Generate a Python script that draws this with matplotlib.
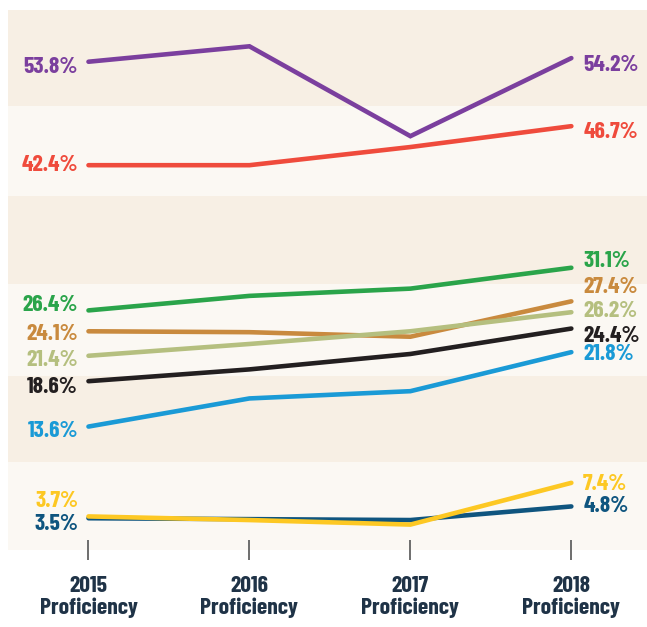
import matplotlib
matplotlib.use("Agg")
import matplotlib.pyplot as plt

years = ["2015\nProficiency", "2016\nProficiency", "2017\nProficiency", "2018\nProficiency"]

# one list per line
purple = [53.8, 55.5, 45.6, 54.2]
red = [42.4, 42.4, 44.4, 46.7]
green = [26.4, 28.0, 28.8, 31.1]
brown = [24.1, 24.0, 23.5, 27.4]
sage = [21.4, 22.7, 24.1, 26.2]
black = [18.6, 19.9, 21.6, 24.4]
blue = [13.6, 16.7, 17.5, 21.8]
navy = [3.5, 3.4, 3.3, 4.8]
yellow = [3.7, 3.3, 2.8, 7.4]

series = [purple, red, green, brown, sage, black, blue, navy, yellow]
colors = ["#7b3f9e", "#ef4b3c", "#2aa44a", "#c98a3e", "#b5bf7f",
          "#231f20", "#1a9ad6", "#0f557f", "#fdc823"]
# label nudges in pixels (positive = down), left end and right end
left_dy = [5, 0, -5, 3, 4, 6, 4, 6, -15]
right_dy = [7, 6, -7, -14, -1, 7, 2, 0, 1]

font = ["Barlow Condensed", "DejaVu Sans"]

fig = plt.figure(figsize=(6.47, 6.27), dpi=100)
ax = fig.add_axes([8 / 647, 77 / 627, 639 / 647, 540 / 627])

# alternating background bands
edges = [0, 9.7, 19.2, 29.3, 39.0, 48.9, 59.5]
for i in range(len(edges) - 1):
    c = "#fbf8f3" if i % 2 == 0 else "#f7efe4"
    ax.axhspan(edges[i], edges[i + 1], color=c, lw=0, zorder=0)

x = list(range(len(years)))
for vals, c, ld, rd in zip(series, colors, left_dy, right_dy):
    ax.plot(x, vals, color=c, lw=3.3, solid_capstyle="round", solid_joinstyle="miter", zorder=3)
    ax.annotate(f"{vals[0]}%", (x[0], vals[0]), xytext=(-7.5, -ld * 0.72),
                textcoords="offset points", ha="right", va="center",
                color=c, fontsize=17, fontweight="bold", family=font)
    ax.annotate(f"{vals[-1]}%", (x[-1], vals[-1]), xytext=(8.5, -rd * 0.72),
                textcoords="offset points", ha="left", va="center",
                color=c, fontsize=17, fontweight="bold", family=font)

ax.set_xlim(-0.5, 3.47)
ax.set_ylim(0, 59.5)
ax.set_xticks(x)
ax.set_xticklabels(years, fontsize=17, fontweight="bold", color="#1f3347",
                   family=font, linespacing=1.1)
ax.tick_params(axis="x", direction="inout", length=15, width=1.2, color="#555555", pad=11)
ax.set_yticks([])
for s in ax.spines.values():
    s.set_visible(False)

fig.savefig("out.png", dpi=100)
